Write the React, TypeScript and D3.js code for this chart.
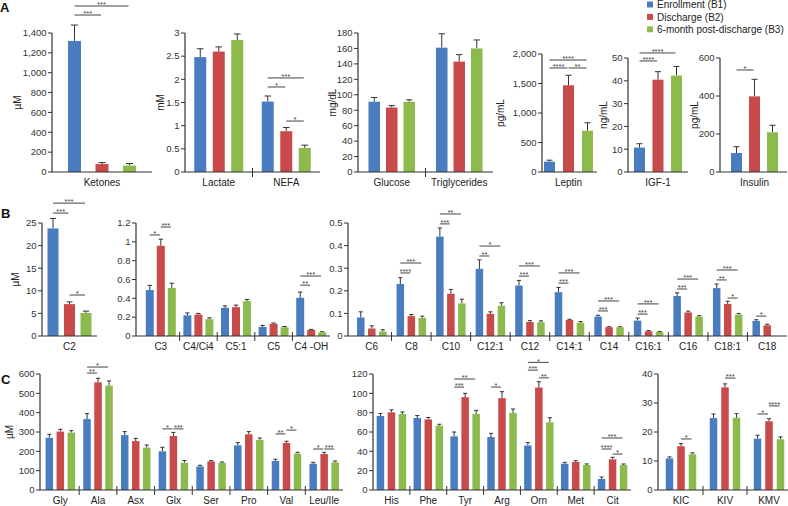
import React from 'react';
import * as d3 from 'd3';

// series: Enrollment (B1), Discharge (B2), 6-month post-discharge (B3)
const seriesNames = ['Enrollment (B1)', 'Discharge (B2)', '6-month post-discharge (B3)'];
const seriesColors = ['#4a7dc0', '#c84a4b', '#8dba4c'];

// ---- Panel A ----
const ketoneCats = ['Ketones'];
const ketoneMeans = [[1320], [80], [65]];
const ketoneSems = [[160], [15], [20]];
const ketoneSig = [[0, 0, 1, 1581, '***'], [0, 0, 2, 1672, '***']];

const lactNefaCats = ['Lactate', 'NEFA'];
const lactNefaMeans = [[2.48, 1.52], [2.6, 0.88], [2.85, 0.52]];
const lactNefaSems = [[0.18, 0.12], [0.1, 0.08], [0.13, 0.06]];
const lactNefaSig = [[1, 0, 1, 1.835, '*'], [1, 0, 2, 2.03, '***'], [1, 1, 2, 1.1, '*']];

const glucTrigCats = ['Glucose', 'Triglycerides'];
const glucTrigMeans = [[91, 161], [83.5, 143], [91, 160]];
const glucTrigSems = [[5.5, 18], [2.5, 9], [2.5, 11]];
const glucTrigSig = [];

const leptinCats = ['Leptin'];
const leptinMeans = [[175], [1470], [700]];
const leptinSems = [[25], [170], [135]];
const leptinSig = [[0, 0, 2, 1898, '****'], [0, 0, 1, 1763, '****'], [0, 1, 2, 1763, '**']];

const igfCats = ['IGF-1'];
const igfMeans = [[10.7], [40.5], [42.3]];
const igfSems = [[1.7], [3.5], [4]];
const igfSig = [[0, 0, 2, 52.2, '****'], [0, 0, 1, 48.7, '****']];

const insulinCats = ['Insulin'];
const insulinMeans = [[100], [398], [209]];
const insulinSems = [[33], [90], [37]];
const insulinSig = [[0, 0, 1, 537, '*']];

// ---- Panel B ----
const c2Cats = ['C2'];
const c2Means = [[23.8], [7.05], [5.1]];
const c2Sems = [[2.2], [0.5], [0.4]];
const c2Sig = [[0, 0, 2, 29.4, '***'], [0, 0, 1, 27.2, '***'], [0, 1, 2, 9.07, '*']];

const shortCats = ['C3', 'C4/Ci4', 'C5:1', 'C5', 'C4 -OH'];
const shortMeans = [
  [0.488, 0.22, 0.3, 0.096, 0.406],
  [0.958, 0.228, 0.306, 0.13, 0.064],
  [0.51, 0.178, 0.37, 0.093, 0.039],
];
const shortSems = [
  [0.05, 0.025, 0.02, 0.016, 0.06],
  [0.07, 0.012, 0.022, 0.008, 0.006],
  [0.05, 0.015, 0.018, 0.008, 0.006],
];
const shortSig = [
  [0, 0, 1, 1.073, '*'], [0, 1, 2, 1.157, '***'],
  [4, 0, 1, 0.54, '**'], [4, 0, 2, 0.637, '***'],
];

const longCats = ['C6', 'C8', 'C10', 'C12:1', 'C12', 'C14:1', 'C14', 'C16:1', 'C16', 'C18:1', 'C18'];
const longMeans = [
  [0.082, 0.23, 0.44, 0.297, 0.223, 0.194, 0.086, 0.068, 0.177, 0.212, 0.067],
  [0.033, 0.088, 0.187, 0.098, 0.062, 0.071, 0.039, 0.021, 0.104, 0.142, 0.047],
  [0.02, 0.08, 0.144, 0.134, 0.061, 0.059, 0.039, 0.018, 0.086, 0.095, null],
];
const longSems = [
  [0.025, 0.028, 0.038, 0.04, 0.023, 0.021, 0.006, 0.011, 0.014, 0.018, 0.005],
  [0.012, 0.007, 0.019, 0.009, 0.006, 0.003, 0.002, 0.003, 0.006, 0.012, 0.005],
  [0.008, 0.008, 0.019, 0.013, 0.006, 0.005, 0.002, 0.002, 0.004, 0.005, null],
];
const longSig = [
  [1, 0, 1, 0.279, '****'], [1, 0, 2, 0.323, '***'],
  [2, 0, 1, 0.496, '***'], [2, 0, 2, 0.54, '**'],
  [3, 0, 1, 0.354, '**'], [3, 0, 2, 0.398, '*'],
  [4, 0, 1, 0.265, '***'], [4, 0, 2, 0.31, '***'],
  [5, 0, 1, 0.234, '***'], [5, 0, 2, 0.279, '***'],
  [6, 0, 1, 0.111, '***'], [6, 0, 2, 0.155, '***'],
  [7, 0, 1, 0.097, '***'], [7, 0, 2, 0.142, '***'],
  [8, 0, 1, 0.208, '***'], [8, 0, 2, 0.252, '***'],
  [9, 0, 1, 0.248, '**'], [9, 0, 2, 0.292, '***'], [9, 1, 2, 0.168, '*'],
  [10, 0, 1, 0.088, '*'],
];

// ---- Panel C ----
const aa1Cats = ['Gly', 'Ala', 'Asx', 'Glx', 'Ser', 'Pro', 'Val', 'Leu/Ile'];
const aa1Means = [
  [270, 367, 284, 200, 122, 231, 150, 136],
  [302, 557, 253, 279, 148, 288, 243, 186],
  [297, 540, 219, 141, 140, 259, 188, 143],
];
const aa1Sems = [
  [18, 28, 18, 21, 6, 14, 9, 7],
  [12, 21, 14, 19, 4, 14, 9, 9],
  [10, 24, 14, 12, 5, 10, 7, 7],
];
const aa1Sig = [
  [1, 0, 1, 605, '**'], [1, 0, 2, 636, '*'],
  [3, 0, 1, 316, '*'], [3, 1, 2, 316, '***'],
  [6, 0, 1, 290, '**'], [6, 1, 2, 310, '*'],
  [7, 0, 1, 212, '*'], [7, 1, 2, 212, '***'],
];

const aa2Cats = ['His', 'Phe', 'Tyr', 'Arg', 'Orn', 'Met', 'Cit'];
const aa2Means = [
  [76.6, 74.5, 55.5, 54.8, 46, 27.2, 11.4],
  [80.3, 73, 96, 95, 106, 29, 31.7],
  [78.6, 66.5, 78.6, 79.7, 70, 25.9, 25.9],
];
const aa2Sems = [
  [2.6, 2.5, 4.5, 3.8, 3, 1.4, 2],
  [2.7, 2, 4, 6.7, 6, 1.3, 2.1],
  [2.1, 1.5, 3.8, 4.1, 4.8, 1.1, 1],
];
const aa2Sig = [
  [2, 0, 1, 106.5, '***'], [2, 0, 2, 114.8, '**'],
  [3, 0, 1, 106.5, '*'],
  [4, 0, 1, 124, '***'], [4, 0, 2, 132, '*'], [4, 1, 2, 116, '**'],
  [6, 0, 1, 42.4, '****'], [6, 0, 2, 53.8, '***'], [6, 1, 2, 37.2, '*'],
];

const ketoCats = ['KIC', 'KIV', 'KMV'];
const ketoMeans = [[10.9, 24.8, 17.7], [15.1, 35.4, 23.7], [12.3, 24.9, 17.5]];
const ketoSems = [[0.5, 1.4, 1.2], [0.9, 1.2, 0.9], [0.5, 1.4, 0.8]];
const ketoSig = [[0, 1, 2, 17.6, '*'], [1, 1, 2, 38.6, '***'], [2, 0, 1, 26.2, '*'], [2, 1, 2, 29, '****']];

const FONT = '"Liberation Sans", Arial, Helvetica, sans-serif';
const INK = '#333';

const fmtThousands = d3.format(',');

// layout for each small chart
const panels = [
  { cats: ketoneCats, means: ketoneMeans, sems: ketoneSems, sig: ketoneSig, axisX: 52, range: [52, 152], top: 33, bottom: 172, max: 1400, step: 200, label: 'µM', labelX: 21, barW: 13, barStep: 27.5 },
  { cats: lactNefaCats, means: lactNefaMeans, sems: lactNefaSems, sig: lactNefaSig, axisX: 185, range: [185, 320], top: 33, bottom: 172, max: 3, step: 0.5, label: 'mM', labelX: 164, barW: 12, barStep: 18.5 },
  { cats: glucTrigCats, means: glucTrigMeans, sems: glucTrigSems, sig: glucTrigSig, axisX: 358, range: [358, 493], top: 33, bottom: 172, max: 180, step: 20, label: 'mg/dL', labelX: 336, barW: 11.5, barStep: 17.5 },
  { cats: leptinCats, means: leptinMeans, sems: leptinSems, sig: leptinSig, axisX: 542, range: [540, 597], top: 54, bottom: 172, max: 2000, step: 500, label: 'pg/mL', labelX: 504, barW: 11, barStep: 19 },
  { cats: igfCats, means: igfMeans, sems: igfSems, sig: igfSig, axisX: 628, range: [628, 688], top: 58, bottom: 172, max: 50, step: 10, label: 'ng/mL', labelX: 607, barW: 11, barStep: 18.5 },
  { cats: insulinCats, means: insulinMeans, sems: insulinSems, sig: insulinSig, axisX: 720, range: [722, 787], top: 58, bottom: 172, max: 600, step: 200, label: 'pg/mL', labelX: 698, barW: 11, barStep: 18 },
  { cats: c2Cats, means: c2Means, sems: c2Sems, sig: c2Sig, axisX: 42, range: [42, 97], top: 223, bottom: 336, max: 25, step: 5, label: 'µM', labelX: 19, barW: 11, barStep: 16.5 },
  { cats: shortCats, means: shortMeans, sems: shortSems, sig: shortSig, axisX: 136, range: [142, 330], top: 223, bottom: 336, max: 1.2, step: 0.2, barW: 8, barStep: 11 },
  { cats: longCats, means: longMeans, sems: longSems, sig: longSig, axisX: 348, range: [352, 787], top: 223, bottom: 336, max: 0.5, step: 0.1, barW: 7.5, barStep: 11 },
  { cats: aa1Cats, means: aa1Means, sems: aa1Sems, sig: aa1Sig, axisX: 40, range: [41.5, 343], top: 374, bottom: 490, max: 600, step: 100, label: 'µM', labelX: 13, barW: 7.5, barStep: 11 },
  { cats: aa2Cats, means: aa2Means, sems: aa2Sems, sig: aa2Sig, axisX: 373, range: [373, 631], top: 374, bottom: 490, max: 120, step: 20, barW: 7.5, barStep: 11 },
  { cats: ketoCats, means: ketoMeans, sems: ketoSems, sig: ketoSig, axisX: 658, range: [659, 791], top: 374, bottom: 490, max: 40, step: 10, barW: 7.5, barStep: 11.5 },
];

const BarPanel = ({ p }) => {
  const y = d3.scaleLinear().domain([0, p.max]).range([p.bottom, p.top]);
  const x = d3.scaleBand().domain(p.cats).range(p.range);
  const ticks = d3.range(0, Math.round(p.max / p.step) + 1).map(i => +(i * p.step).toFixed(4));
  const cx = (ci, s) => x(p.cats[ci]) + x.bandwidth() / 2 + (s - 1) * p.barStep;
  const capW = p.barW * 0.55;

  return (
    <g>
      {/* bars + error bars */}
      {p.cats.map((c, ci) =>
        [0, 1, 2].map(s => {
          const m = p.means[s][ci];
          if (m == null) return null;
          const e = m + p.sems[s][ci];
          const xc = cx(ci, s);
          return (
            <g key={c + s}>
              <line x1={xc} x2={xc} y1={y(m)} y2={y(e)} stroke={INK} strokeWidth={1} />
              <line x1={xc - capW / 2} x2={xc + capW / 2} y1={y(e)} y2={y(e)} stroke={INK} strokeWidth={1} />
              <rect x={xc - p.barW / 2} y={y(m)} width={p.barW} height={p.bottom - y(m)} fill={seriesColors[s]} />
            </g>
          );
        })
      )}

      {/* y axis */}
      <line x1={p.axisX} x2={p.axisX} y1={p.top} y2={p.bottom} stroke={INK} strokeWidth={1.2} />
      {ticks.map(t => (
        <g key={t}>
          <line x1={p.axisX - 4} x2={p.axisX} y1={y(t)} y2={y(t)} stroke={INK} strokeWidth={1} />
          <text x={p.axisX - 5.5} y={y(t) + 3.3} textAnchor="end" fontSize={9.5} fill={INK} fontFamily={FONT}>
            {t >= 1000 ? fmtThousands(t) : String(t)}
          </text>
        </g>
      ))}
      {p.label && (
        <text transform={`translate(${p.labelX},${(p.top + p.bottom) / 2}) rotate(-90)`} textAnchor="middle"
          fontSize={10} fill="#222" fontFamily={FONT}>{p.label}</text>
      )}

      {/* x axis */}
      <line x1={p.axisX} x2={p.range[1]} y1={p.bottom} y2={p.bottom} stroke={INK} strokeWidth={1.2} />
      {p.cats.slice(1).map(c => (
        <line key={c} x1={x(c)} x2={x(c)} y1={p.bottom - 4} y2={p.bottom + 5} stroke={INK} strokeWidth={1} />
      ))}
      {p.cats.map((c, ci) => (
        <text key={c} x={cx(ci, 1)} y={p.bottom + 14} textAnchor="middle" fontSize={10} fill="#222" fontFamily={FONT}>{c}</text>
      ))}

      {/* significance brackets */}
      {p.sig.map(([ci, a, b, v, lab], k) => {
        const x1 = cx(ci, a);
        const x2 = cx(ci, b) - 1;
        const yy = y(v);
        return (
          <g key={k}>
            <line x1={x1} x2={x2} y1={yy} y2={yy} stroke="#444" strokeWidth={1} />
            <text x={(x1 + x2) / 2} y={yy + 1.2} textAnchor="middle" fontSize={7.5} fill="#444" fontFamily={FONT}>{lab}</text>
          </g>
        );
      })}
    </g>
  );
};

export default function App() {
  return (
    <svg width={788} height={506} style={{ position: 'absolute', left: 0, top: 0, background: '#fff' }}>
      <rect width={788} height={506} fill="#fff" />
      <text x={0} y={12} fontSize={13} fontWeight="bold" fontFamily={FONT} fill="#111">A</text>
      <text x={1} y={218} fontSize={13} fontWeight="bold" fontFamily={FONT} fill="#111">B</text>
      <text x={1} y={384} fontSize={13} fontWeight="bold" fontFamily={FONT} fill="#111">C</text>

      {panels.map((p, i) => <BarPanel key={i} p={p} />)}

      {/* legend */}
      {seriesNames.map((n, i) => (
        <g key={n}>
          <rect x={647} y={1.5 + i * 12.4} width={6} height={6} fill={seriesColors[i]} />
          <text x={657} y={8.3 + i * 12.4} fontSize={10} fill="#222" fontFamily={FONT}>{n}</text>
        </g>
      ))}
    </svg>
  );
}
